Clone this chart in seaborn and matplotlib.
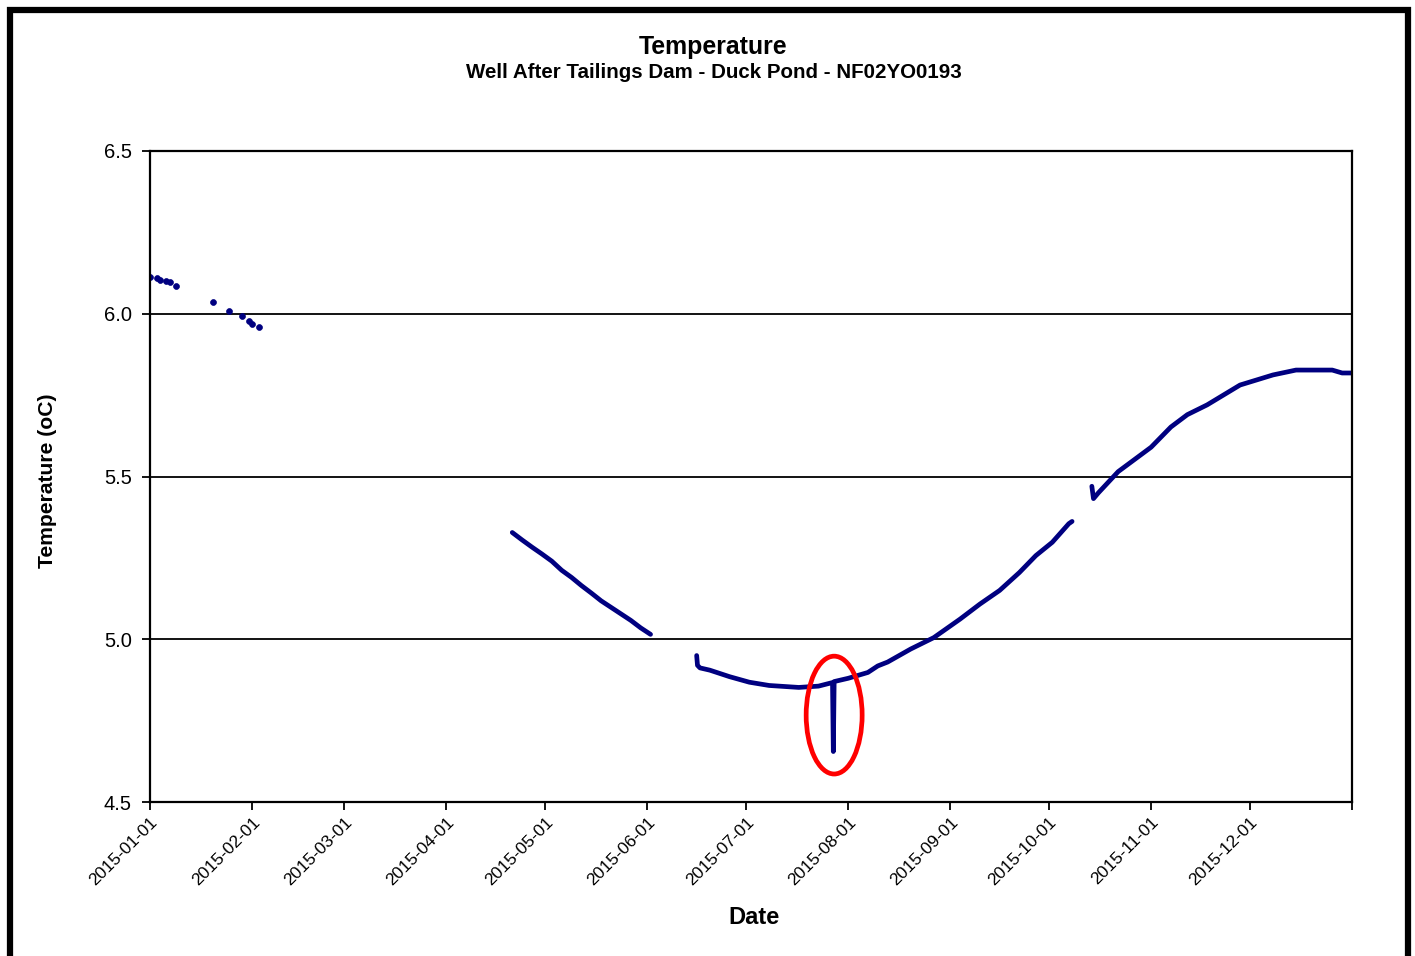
import matplotlib
matplotlib.use("Agg")
import matplotlib.pyplot as plt
import matplotlib.dates as mdates
from matplotlib.patches import Ellipse, Rectangle
import numpy as np
import pandas as pd
import seaborn as sns

# ---------------- data ----------------
seg1_dates = ["2015-01-01", "2015-01-03", "2015-01-04", "2015-01-06", "2015-01-07",
              "2015-01-09", "2015-01-20", "2015-01-25", "2015-01-29", "2015-01-31",
              "2015-02-01", "2015-02-03"]
seg1_vals = [6.113, 6.110, 6.105, 6.100, 6.098, 6.085, 6.036, 6.008, 5.993, 5.978, 5.970, 5.958]

seg2_dates = ["2015-04-21", "2015-04-24", "2015-04-27", "2015-04-30", "2015-05-03",
              "2015-05-06", "2015-05-09", "2015-05-12", "2015-05-15", "2015-05-18",
              "2015-05-21", "2015-05-24", "2015-05-27", "2015-05-30", "2015-06-02"]
seg2_vals = [5.328, 5.305, 5.283, 5.262, 5.240, 5.212, 5.190, 5.165, 5.142, 5.118,
             5.098, 5.078, 5.058, 5.035, 5.015]

seg3_dates = ["2015-06-16 00:00", "2015-06-16 06:00", "2015-06-17 00:00", "2015-06-20 00:00",
              "2015-06-26 00:00", "2015-07-02 00:00", "2015-07-08 00:00", "2015-07-17 00:00",
              "2015-07-23 00:00", "2015-07-27 06:00", "2015-07-27 12:00", "2015-07-27 18:00",
              "2015-08-01 00:00", "2015-08-07 00:00", "2015-08-10 00:00", "2015-08-13 00:00",
              "2015-08-20 00:00", "2015-08-27 00:00", "2015-09-04 00:00", "2015-09-10 00:00",
              "2015-09-16 00:00", "2015-09-22 00:00", "2015-09-27 00:00", "2015-10-02 00:00",
              "2015-10-07 00:00", "2015-10-08 00:00"]
seg3_vals = [4.950, 4.920, 4.912, 4.905, 4.885, 4.868, 4.858, 4.852, 4.856,
             4.867, 4.655, 4.870,
             4.880, 4.898, 4.918, 4.930, 4.970, 5.005, 5.062, 5.108, 5.150, 5.205,
             5.257, 5.298, 5.355, 5.362]

seg4_dates = ["2015-10-14 00:00", "2015-10-14 12:00", "2015-10-16 00:00", "2015-10-22 00:00",
              "2015-11-01 00:00", "2015-11-07 00:00", "2015-11-12 00:00", "2015-11-18 00:00",
              "2015-11-28 00:00", "2015-12-08 00:00", "2015-12-15 00:00", "2015-12-26 00:00",
              "2015-12-29 00:00", "2015-12-31 23:00"]
seg4_vals = [5.470, 5.432, 5.450, 5.515, 5.590, 5.652, 5.690, 5.720, 5.781, 5.812,
             5.827, 5.827, 5.818, 5.818]

tick_dates = ["2015-01-01", "2015-02-01", "2015-03-01", "2015-04-01", "2015-05-01",
              "2015-06-01", "2015-07-01", "2015-08-01", "2015-09-01", "2015-10-01",
              "2015-11-01", "2015-12-01", "2016-01-01"]
tick_labels = ["2015-01-01", "2015-02-01", "2015-03-01", "2015-04-01", "2015-05-01",
               "2015-06-01", "2015-07-01", "2015-08-01", "2015-09-01", "2015-10-01",
               "2015-11-01", "2015-12-01", ""]
y_ticks = [4.5, 5.0, 5.5, 6.0, 6.5]
y_tick_labels = ["4.5", "5.0", "5.5", "6.0", "6.5"]

title = "Temperature"
subtitle = "Well After Tailings Dam - Duck Pond - NF02YO0193"
x_label = "Date"
y_label = "Temperature (oC)"

# ---------------- build tables ----------------
def to_dt(lst):
    return pd.to_datetime(lst, format="ISO8601")

lines_df = pd.concat([
    pd.DataFrame({"date": to_dt(seg2_dates), "temp": seg2_vals, "seg": 2}),
    pd.DataFrame({"date": to_dt(seg3_dates), "temp": seg3_vals, "seg": 3}),
    pd.DataFrame({"date": to_dt(seg4_dates), "temp": seg4_vals, "seg": 4}),
], ignore_index=True)
points_df = pd.DataFrame({"date": to_dt(seg1_dates), "temp": seg1_vals})

# ---------------- style ----------------
sns.set_theme(style="white")
plt.rcParams["font.family"] = ["Liberation Sans", "DejaVu Sans"]
plt.rcParams["text.color"] = "black"
plt.rcParams["axes.labelcolor"] = "black"
plt.rcParams["xtick.color"] = "black"
plt.rcParams["ytick.color"] = "black"

W, H = 1415, 956
fig = plt.figure(figsize=(W / 100, H / 100), dpi=100)
fig.patch.set_facecolor("white")
ax = fig.add_axes([150 / W, 1 - 802 / H, (1352 - 150) / W, (802 - 151) / H])
ax.set_facecolor("white")

navy = "#000080"
sns.lineplot(data=lines_df, x="date", y="temp", units="seg", estimator=None,
             sort=False, color=navy, linewidth=3.4, ax=ax, legend=False)
sns.scatterplot(data=points_df, x="date", y="temp", color=navy, marker="o",
                s=18, edgecolor=navy, linewidth=0.5, ax=ax, legend=False)

# axes
ax.set_xlim(pd.Timestamp("2015-01-01"), pd.Timestamp("2016-01-01"))
ax.set_ylim(4.5, 6.5)
ax.set_yticks(y_ticks)
ax.set_yticklabels(y_tick_labels, fontsize=14.5, color="black")
ax.set_xticks(to_dt(tick_dates))
ax.set_xticklabels(tick_labels, rotation=45, ha="right", va="top",
                   rotation_mode="anchor", fontsize=12.5, color="black")
ax.tick_params(axis="both", direction="out", length=6, width=1.3, color="black",
               bottom=True, left=True)
ax.tick_params(axis="x", pad=3)
ax.tick_params(axis="y", pad=7)

for sp in ax.spines.values():
    sp.set_visible(True)
    sp.set_color("black")
    sp.set_linewidth(1.6)

for yv in y_ticks[1:-1]:
    ax.axhline(yv, color="black", linewidth=1.3, zorder=0.5)

ax.set_xlabel(x_label, fontsize=17, fontweight="bold", color="black")
ax.set_ylabel(y_label, fontsize=15.2, fontweight="bold", color="black")
ax.xaxis.set_label_coords((754 - 150) / (1352 - 150), -(917 - 802) / (802 - 151))
ax.yaxis.set_label_coords(-(150 - 47) / (1352 - 150), (802 - 481) / (802 - 151))
ax.xaxis.label.set_va("center")
ax.yaxis.label.set_va("center")

# titles
fig.text(713 / W, 1 - 47 / H, title, ha="center", va="center",
         fontsize=17.9, fontweight="bold", color="black")
fig.text(714 / W, 1 - 72 / H, subtitle, ha="center", va="center",
         fontsize=14.8, fontweight="bold", color="black")

# red highlight ellipse
ell_center = (mdates.date2num(pd.Timestamp("2015-07-27 18:00")), 4.767)
ax.add_patch(Ellipse(ell_center, width=17.0, height=0.362, fill=False,
                     edgecolor="#ff0000", linewidth=3.4, zorder=5))

# outer border
fig.patches.append(Rectangle((10 / W, -0.05), (1408 - 10) / W, 1 - 10 / H + 0.05,
                             transform=fig.transFigure, fill=False,
                             edgecolor="black", linewidth=4.5, zorder=10))

fig.savefig("out.png", dpi=100, facecolor="white")
